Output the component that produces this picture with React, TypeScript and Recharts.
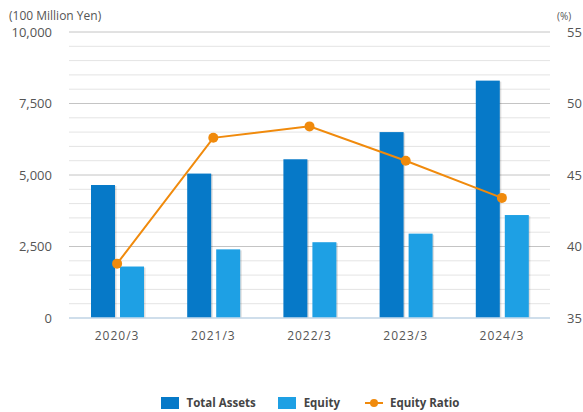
import React from 'react';
import { ComposedChart, Bar, Line, XAxis, YAxis, CartesianGrid } from 'recharts';

const categories = ['2020/3', '2021/3', '2022/3', '2023/3', '2024/3'];
const totalAssets = [4650, 5050, 5550, 6500, 8300];
const equity = [1800, 2400, 2650, 2950, 3600];
const equityRatio = [38.8, 47.6, 48.4, 46.0, 43.4];
const leftTicks = [0, 500, 1000, 1500, 2000, 2500, 3000, 3500, 4000, 4500, 5000, 5500, 6000, 6500, 7000, 7500, 8000, 8500, 9000, 9500, 10000];
const leftLabelStep = 2500;
const rightTicks = [35, 40, 45, 50, 55];

const data = categories.map((c, i) => ({
  name: c,
  totalAssets: totalAssets[i],
  equity: equity[i],
  equityRatio: equityRatio[i],
}));

const FONT = '"Open Sans", "Noto Sans", sans-serif';

const ShadowBar = (props: any) => {
  const { x, y, width, height, fill } = props;
  if (!height || height <= 0) return null;
  return (
    <g>
      <rect x={x + 1.5} y={y + 1} width={width} height={height - 1} fill="rgba(0,0,0,0.13)" />
      <rect x={x} y={y} width={width} height={height} fill={fill} />
    </g>
  );
};

const LeftTick = (props: any) => {
  const { x, y, payload } = props;
  const v = payload?.value;
  if (v % leftLabelStep !== 0) return null;
  return (
    <text x={x} y={y} dy="0.355em" textAnchor="end" fontFamily={FONT} fontSize={13} fill="#555">
      {Number(v).toLocaleString('en-US')}
    </text>
  );
};

const GridLine = (props: any) => {
  const { x1, y1, x2, y2, index } = props;
  const major = index % 5 === 0;
  return <line x1={x1} y1={y1} x2={x2} y2={y2} stroke={major ? '#c4c4c4' : '#e4e4e4'} strokeWidth={1} />;
};

const LegendBox = () => (
  <div style={{ position: 'absolute', left: 0, top: 395, width: 583, display: 'flex', justifyContent: 'center', alignItems: 'center', fontFamily: FONT, fontSize: 11.5, fontWeight: 700, color: '#444', paddingLeft: 37, boxSizing: 'border-box' }}>
    <span style={{ display: 'inline-block', width: 18, height: 12, background: '#0679c8', marginRight: 8 }} />
    <span style={{ marginRight: 22 }}>Total Assets</span>
    <span style={{ display: 'inline-block', width: 18, height: 12, background: '#1ea0e4', marginRight: 8 }} />
    <span style={{ marginRight: 25 }}>Equity</span>
    <svg width={18} height={10} style={{ marginRight: 7 }}>
      <line x1={0} y1={5} x2={18} y2={5} stroke="#f08a0c" strokeWidth={2} />
      <circle cx={9} cy={5} r={4} fill="#f08a0c" />
    </svg>
    <span>Equity Ratio</span>
  </div>
);

export default function App() {
  return (
    <div style={{ position: 'absolute', left: 0, top: 0, width: 583, height: 412, background: '#fff' }}>
      <div style={{ position: 'absolute', left: 9, top: 10, fontFamily: FONT, fontSize: 12, lineHeight: '12px', color: '#555' }}>(100 Million Yen)</div>
      <div style={{ position: 'absolute', left: 557, top: 11, fontFamily: FONT, fontSize: 10, lineHeight: '10px', color: '#555' }}>(%)</div>
      <ComposedChart
        width={583}
        height={412}
        data={data}
        margin={{ top: 32, right: 0, left: 0, bottom: 64 }}
        barGap={5}
      >
        <CartesianGrid yAxisId="left" vertical={false} horizontal={GridLine} />
        <XAxis
          dataKey="name"
          height={30}
          axisLine={{ stroke: '#c9ddee', strokeWidth: 1.5 }}
          tickLine={false}
          tickSize={0}
          tickMargin={13}
          tick={{ fontFamily: FONT, fontSize: 12, fill: '#555', letterSpacing: 1 }}
        />
        <YAxis
          yAxisId="left"
          orientation="left"
          width={69}
          domain={[0, 10000]}
          ticks={leftTicks}
          interval={0}
          axisLine={false}
          tickLine={false}
          tickSize={0}
          tickMargin={17}
          tick={LeftTick}
        />
        <YAxis
          yAxisId="right"
          orientation="right"
          width={33}
          domain={[35, 55]}
          ticks={rightTicks}
          axisLine={false}
          tickLine={false}
          tickSize={0}
          tickMargin={17}
          tick={{ fontFamily: FONT, fontSize: 13, fill: '#555' }}
        />
        <Bar yAxisId="left" dataKey="totalAssets" name="Total Assets" fill="#0679c8" barSize={24} shape={ShadowBar} isAnimationActive={false} />
        <Bar yAxisId="left" dataKey="equity" name="Equity" fill="#1ea0e4" barSize={24} shape={ShadowBar} isAnimationActive={false} />
        <Line
          yAxisId="right"
          dataKey="equityRatio"
          name="Equity Ratio"
          stroke="#f08a0c"
          strokeWidth={2}
          dot={{ r: 5, fill: '#f08a0c', stroke: 'none' }}
          isAnimationActive={false}
        />
      </ComposedChart>
      <LegendBox />
    </div>
  );
}
